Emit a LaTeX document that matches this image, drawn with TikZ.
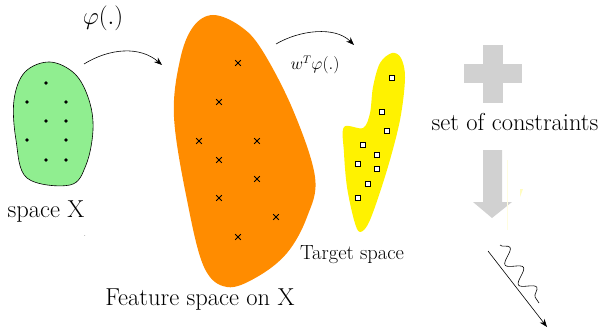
\documentclass[tikz,border=0pt]{standalone}
\usetikzlibrary{arrows.meta,decorations.pathmorphing}
\begin{document}
\begin{tikzpicture}[x=1pt,y=-1pt,
  lbl/.style={inner sep=0pt, font=\fontsize{24.5}{28}\selectfont},
  mapArrow/.style={-{Stealth[length=8pt,width=6pt]}, line width=0.6pt},
  dotmark/.style={fill=black, circle, inner sep=0pt, minimum size=3.6pt},
  sqmark/.style={draw=black, fill=white, line width=0.7pt, inner sep=0pt, minimum size=4.6pt},
  crossmark/.style={line width=0.8pt},
  greyshape/.style={fill=black!18, draw=none}]
\useasboundingbox (0,0) rectangle (601,329);

% green blob (space X)
\draw[line width=0.6pt, fill={rgb,255:red,144;green,238;blue,144}] plot[smooth cycle, tension=0.6] coordinates
 {(50,62) (75,74) (89,100) (93,130) (86,165) (70,185) (27,178) (16,140) (14,100) (25,72)};
\foreach \p in {(46,83),(27,102),(66,102),(46,121),(66,121),(27,140),(66,140),(46,160),(66,160)}
  \node[dotmark] at \p {};
\node[lbl] (spaceX) at (46,212) {space X};
\node[inner sep=0pt, font=\fontsize{6}{7}\selectfont] (tinydot) at (85,236) {.};

% orange blob
\fill[fill={rgb,255:red,255;green,140;blue,0}] plot[smooth cycle, tension=0.6] coordinates
 {(213,15) (240,26) (262,50) (293,110) (315,177) (307,217) (287,253) (257,277) (227,287) (204,267) (187,200) (174,117) (180,60) (193,27)};
\foreach \p in {(238,63),(219,102),(199,141),(257,141),(219,160),(257,179),(219,198),(276,217),(238,237)}
  \draw[crossmark] \p ++(-2.8,-2.8) -- ++(5.6,5.6) \p ++(-2.8,2.8) -- ++(5.6,-5.6);
\node[lbl] (feat) at (200,300) {Feature space on X};

% yellow blob
\fill[yellow] plot[smooth cycle, tension=0.55] coordinates
 {(344,127) (363,128) (370,113) (373,87) (380,63) (392,53) (401,58) (405,78) (400,120) (387,170) (370,220) (360,232) (354,220) (347,187) (344,153)};
\foreach \p in {(392,78),(382,112),(387,131),(363,145),(377,155),(358,164),(377,169),(368,184),(358,198)}
  \node[sqmark] at \p {};
\node[inner sep=0pt, font=\fontsize{20.5}{24}\selectfont] (target) at (352,255) {Target space};

% mapping arrows
\coordinate (a1s) at (84,64);
\coordinate (a1e) at (162,65);
\draw[mapArrow] (a1s) .. controls (110,48) and (140,46) .. (a1e);
\node[inner sep=0pt, font=\fontsize{25}{29}\selectfont] (phi) at (103,18) {$\varphi(.)$};
\coordinate (a2s) at (276,44);
\coordinate (a2e) at (354,45);
\draw[mapArrow] (a2s) .. controls (300,30) and (335,26) .. (a2e);
\node[inner sep=0pt, font=\fontsize{16.3}{19}\selectfont] (wphi) at (315,65) {$w^T\varphi(.)$};

% plus sign
\fill[greyshape] (483,45) rectangle (503,103);
\fill[greyshape] (464,64) rectangle (522,83);
\node[lbl] (constr) at (515,122) {set of constraints};

% down arrow
\fill[greyshape] (483,150) -- (502,150) -- (502,202) -- (512,202) -- (492,218) -- (473,202) -- (483,202) -- cycle;
\draw[yellow!12, line width=0.8pt] (507,160) -- (507,230);
\fill[yellow!25] (520,189) -- (523,189) -- (520,197) -- cycle;

% wavy arrow
\coordinate (wa) at (488,251);
\coordinate (wb) at (547,327);
\draw[mapArrow] (wa) -- (wb);
\coordinate (sa) at (500,245);
\coordinate (sb) at (539,303);
\draw[line width=0.6pt, decorate, decoration={snake, segment length=24pt, amplitude=7pt}] (sa) -- (sb);
\end{tikzpicture}
\end{document}
